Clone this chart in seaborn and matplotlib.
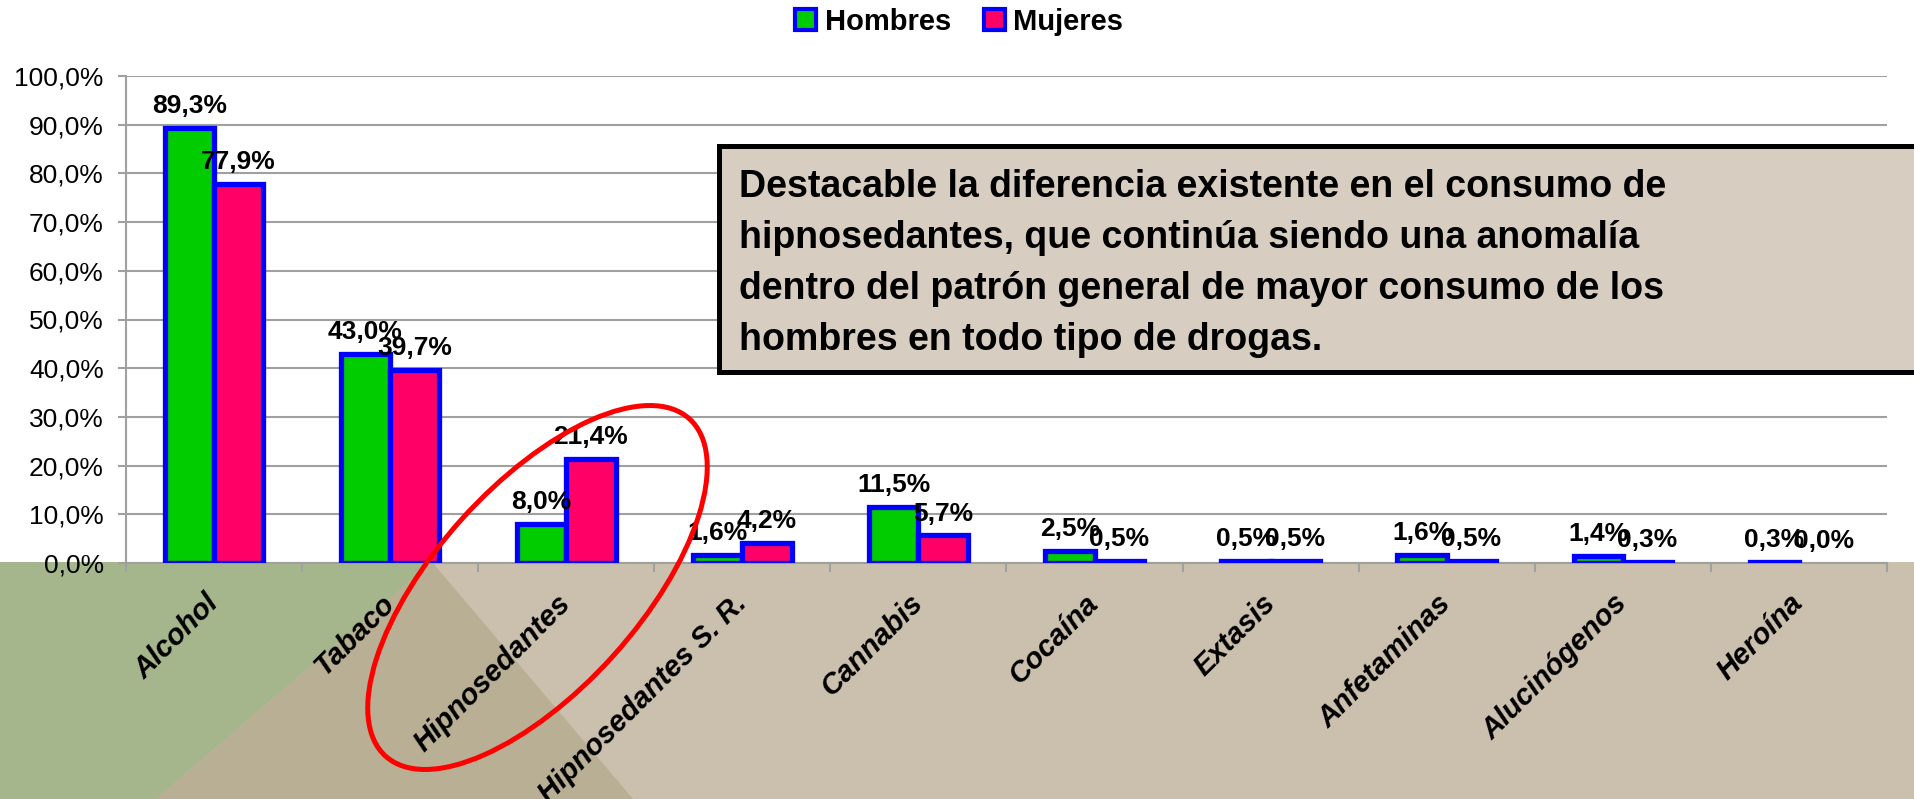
import pandas as pd
import seaborn as sns
import matplotlib.pyplot as plt
from matplotlib.patches import Polygon, Rectangle, Ellipse, Patch
from matplotlib.ticker import FuncFormatter, FixedLocator

# Datos del grafico (porcentajes)
categorias = ['Alcohol', 'Tabaco', 'Hipnosedantes', 'Hipnosedantes S. R.', 'Cannabis',
              'Cocaína', 'Extasis', 'Anfetaminas', 'Alucinógenos', 'Heroína']
hombres = [89.3, 43.0, 8.0, 1.6, 11.5, 2.5, 0.5, 1.6, 1.4, 0.3]
mujeres = [77.9, 39.7, 21.4, 4.2, 5.7, 0.5, 0.5, 0.5, 0.3, 0.0]
series = ['Hombres', 'Mujeres']
colores = {'Hombres': '#00CC00', 'Mujeres': '#FF0066'}
nota = ['Destacable la diferencia existente en el consumo de',
        'hipnosedantes, que continúa siendo una anomalía',
        'dentro del patrón general de mayor consumo de los',
        'hombres en todo tipo de drogas.']

df = pd.DataFrame({
    'Droga': categorias * 2,
    'Sexo': ['Hombres'] * len(categorias) + ['Mujeres'] * len(categorias),
    'Valor': hombres + mujeres,
})

sns.set_theme(style='white')
plt.rcParams['font.family'] = ['Liberation Sans', 'DejaVu Sans']
plt.rcParams['text.color'] = 'black'
plt.rcParams['xtick.color'] = 'black'
plt.rcParams['ytick.color'] = 'black'

W, H = 1915, 799
fig = plt.figure(figsize=(W / 100, H / 100), dpi=100)
ax = fig.add_axes([126 / W, 1 - 563 / H, (1887 - 126) / W, (563 - 76) / H])
ax.patch.set_alpha(0)

# fondo inferior (verde, tostado y triangulo oscuro)
def px(x, y):
    return (x / W, 1 - y / H)

fig.patches.append(Polygon([px(0, 562), px(W, 562), px(W, H), px(0, H)], closed=True,
                           facecolor='#CBBFAD', edgecolor='none', transform=fig.transFigure, zorder=-3))
fig.patches.append(Polygon([px(0, 562), px(432, 562), px(156, H), px(0, H)], closed=True,
                           facecolor='#A6B68C', edgecolor='none', transform=fig.transFigure, zorder=-2))
fig.patches.append(Polygon([px(432, 562), px(633, H), px(156, H)], closed=True,
                           facecolor='#B8AF94', edgecolor='none', transform=fig.transFigure, zorder=-2))

sns.barplot(data=df, x='Droga', y='Valor', hue='Sexo', palette=colores, hue_order=series,
            saturation=1, width=0.56, edgecolor='#0000FF', linewidth=3.8, legend=False, ax=ax, zorder=3)

for cont in ax.containers:
    for rect in cont:
        if rect.get_height() == 0:
            rect.set_visible(False)
    etiquetas = [f'{r.get_height():.1f}%'.replace('.', ',') for r in cont]
    ax.bar_label(cont, labels=etiquetas, padding=7, fontsize=19, fontweight='bold', color='black', zorder=4)

ax.set_ylim(0, 100)
ax.set_xlim(-0.5, len(categorias) - 0.5)
ax.set_yticks(range(0, 101, 10))
ax.yaxis.set_major_formatter(FuncFormatter(lambda v, p: f'{v:.1f}%'.replace('.', ',')))
ax.yaxis.grid(True, color='#A0A0A0', linewidth=1.5)
ax.set_axisbelow(True)
ax.set_xlabel('')
ax.set_ylabel('')

for s in ['top', 'right']:
    ax.spines[s].set_visible(False)
for s in ['left', 'bottom']:
    ax.spines[s].set_color('#A0A0A0')
    ax.spines[s].set_linewidth(1.5)

ax.tick_params(axis='y', left=True, length=6, width=1.5, color='#A0A0A0', pad=10, labelsize=19, labelcolor='black')
ax.set_xticks(range(len(categorias)))
ax.set_xticklabels(categorias, rotation=45, ha='right', va='center', rotation_mode='anchor',
                   fontsize=21, fontweight='bold', fontstyle='italic', color='black')
ax.tick_params(axis='x', which='major', bottom=True, length=0, pad=26)
ax.xaxis.set_minor_locator(FixedLocator([i - 0.5 for i in range(len(categorias) + 1)]))
ax.tick_params(axis='x', which='minor', bottom=True, length=6.5, width=1.5, color='#A0A0A0')

# leyenda
handles = [Patch(facecolor=colores[s], edgecolor='#0000FF', linewidth=3) for s in series]
fig.legend(handles, series, loc='center', bbox_to_anchor=(0.501, 1 - 22 / H), ncol=2, frameon=False,
           prop={'size': 21, 'weight': 'bold'}, handlelength=0.72, handleheight=0.72,
           handletextpad=0.3, columnspacing=1.1, labelcolor='black')

# cuadro de texto
tr = fig.dpi_scale_trans
fig.patches.append(Rectangle((718.5 / 100, (H - 372) / 100), 13, (372 - 145.5) / 100,
                             facecolor='#D7CDC1', edgecolor='black', linewidth=3.6, transform=tr, zorder=5))
for i, linea in enumerate(nota):
    fig.text(739 / 100, (H - (197 + 51 * i)) / 100, linea, transform=tr, fontsize=27,
             fontweight='bold', va='baseline', ha='left', color='black', zorder=6)

# elipse roja
fig.patches.append(Ellipse((537.5 / 100, (H - 587.5) / 100), 4.54, 2.04, angle=48, fill=False,
                           edgecolor='#FF0000', linewidth=3.6, transform=tr, zorder=7))

fig.savefig('out.png', dpi=100)
